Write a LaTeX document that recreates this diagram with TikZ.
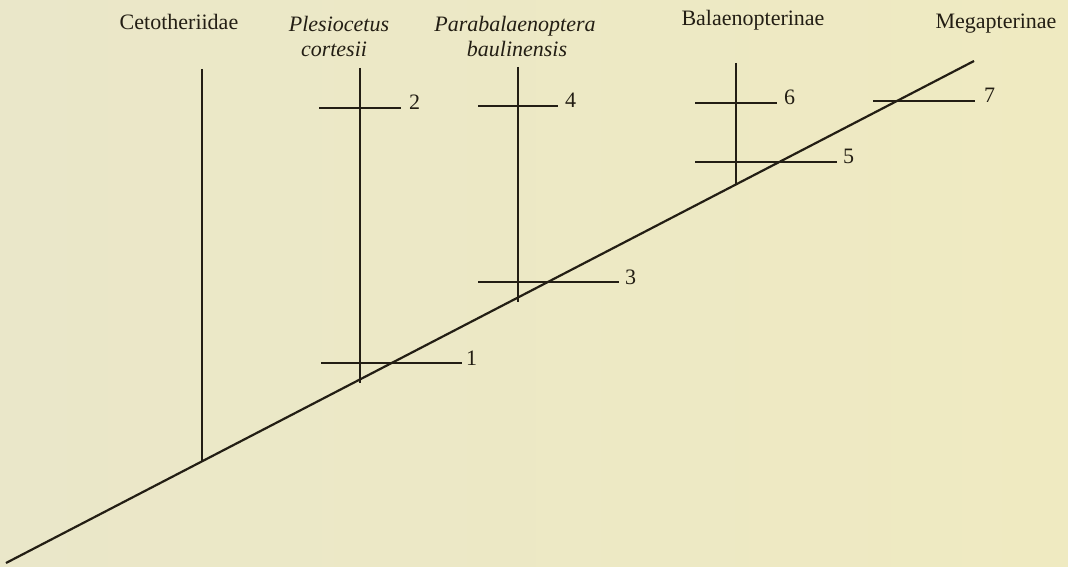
\documentclass[tikz,border=0pt]{standalone}
\usepackage{fontspec}
\setmainfont{Liberation Serif}
\usetikzlibrary{calc}
\definecolor{ink}{HTML}{231E14}
\definecolor{bgL}{HTML}{EAE7C9}
\definecolor{bgR}{HTML}{EFEAC1}
\begin{document}
\begin{tikzpicture}[x=1pt,y=-1pt,
  branch/.style={draw=ink,line width=2.2pt},
  tickline/.style={draw=ink,line width=2.2pt},
  taxon/.style={text=ink,font=\fontsize{22}{25}\selectfont,inner sep=0pt,anchor=base,align=center},
  taxonit/.style={taxon,font=\fontsize{22}{25}\selectfont\itshape},
  num/.style={text=ink,font=\fontsize{22}{25}\selectfont,inner sep=0pt,anchor=base west}]
\shade[left color=bgL,right color=bgR] (0,0) rectangle (1068,567);
\useasboundingbox (0,0) rectangle (1068,567);
% main diagonal
\coordinate (d0) at (6,563);
\coordinate (d1) at (974,61);
\draw[branch] (d0) -- (d1);
% taxon labels
\node[taxon] (cet) at (179,30) {Cetotheriidae};
\node[taxonit] (ple1) at (339,32) {Plesiocetus};
\node[taxonit] (ple2) at (334,57) {cortesii};
\node[taxonit] (par1) at (515,32) {Parabalaenoptera};
\node[taxonit] (par2) at (517,57) {baulinensis};
\node[taxon] (bal) at (753,26) {Balaenopterinae};
\node[taxon] (meg) at (996,29) {Megapterinae};
% vertical branches
\coordinate (v1t) at (202,69);  \coordinate (v1b) at (202,461);
\coordinate (v2t) at (360,68);  \coordinate (v2b) at (360,383);
\coordinate (v3t) at (518,67);  \coordinate (v3b) at (518,302);
\coordinate (v4t) at (736,63);  \coordinate (v4b) at (736,184);
\draw[branch] (v1t) -- (v1b);
\draw[branch] (v2t) -- (v2b);
\draw[branch] (v3t) -- (v3b);
\draw[branch] (v4t) -- (v4b);
% character ticks
\coordinate (t1a) at (321,363); \coordinate (t1b) at (462,363);
\coordinate (t2a) at (319,108); \coordinate (t2b) at (401,108);
\coordinate (t3a) at (478,282); \coordinate (t3b) at (619,282);
\coordinate (t4a) at (478,106); \coordinate (t4b) at (558,106);
\coordinate (t5a) at (695,162); \coordinate (t5b) at (837,162);
\coordinate (t6a) at (695,103); \coordinate (t6b) at (777,103);
\coordinate (t7a) at (873,101); \coordinate (t7b) at (975,101);
\foreach \i in {1,...,7}{\draw[tickline] (t\i a) -- (t\i b);}
\node[num] (n1) at ($(t1b)+(4,2)$) {1};
\node[num] (n2) at ($(t2b)+(8,2)$) {2};
\node[num] (n3) at ($(t3b)+(6,2)$) {3};
\node[num] (n4) at ($(t4b)+(7,2)$) {4};
\node[num] (n5) at ($(t5b)+(6,2)$) {5};
\node[num] (n6) at ($(t6b)+(7,2)$) {6};
\node[num] (n7) at ($(t7b)+(9,2)$) {7};
\end{tikzpicture}
\end{document}
